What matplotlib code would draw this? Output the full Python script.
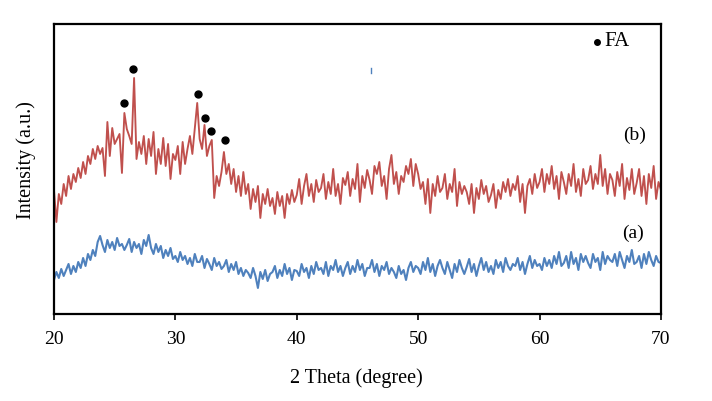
import numpy as np
import matplotlib.pyplot as plt

plt.rcParams['font.family'] = ['Liberation Serif', 'DejaVu Serif']

# 2-theta grid, 0.2 degree step
two_theta = np.round(np.arange(20.0, 70.01, 0.2), 1)

# (b) sample with FA, intensity in arbitrary units
int_b = [
    124, 92, 120, 110, 130, 118, 138, 125, 140, 132,
    146, 136, 152, 140, 158, 150, 165, 155, 168, 160,
    166, 138, 192, 158, 186, 170, 175, 180, 141, 201,
    185, 178, 170, 236, 155, 172, 160, 178, 150, 175,
    158, 182, 140, 165, 150, 176, 148, 170, 135, 160,
    154, 168, 140, 172, 150, 165, 178, 160, 185, 211,
    175, 165, 189, 158, 168, 174, 116, 138, 128, 142,
    162, 140, 150, 130, 145, 122, 138, 118, 142, 120,
    130, 105, 125, 112, 128, 96, 120, 110, 125, 108,
    116, 100, 122, 108, 118, 96, 120, 110, 124, 112,
    119, 135, 110, 128, 140, 118, 130, 112, 134, 122,
    126, 140, 115, 132, 120, 145, 118, 130, 110, 136,
    129, 142, 118, 135, 125, 150, 112, 138, 126, 144,
    134, 120, 148, 140, 152, 128, 138, 115, 145, 159,
    130, 142, 120, 138, 132, 148, 140, 155, 128, 150,
    140, 125, 132, 110, 135, 101, 130, 118, 138, 122,
    126, 140, 115, 130, 122, 145, 108, 132, 120, 128,
    122, 110, 130, 101, 126, 115, 134, 120, 128, 112,
    119, 130, 106, 124, 115, 132, 122, 135, 118, 130,
    124, 138, 112, 130, 101, 128, 135, 120, 140, 126,
    132, 145, 122, 140, 130, 148, 125, 138, 115, 142,
    132, 120, 140, 128, 150, 122, 135, 118, 145, 130,
    134, 148, 125, 140, 130, 159, 128, 145, 120, 140,
    134, 118, 142, 128, 150, 115, 136, 124, 145, 120,
    131, 145, 118, 138, 110, 140, 126, 148, 115, 132,
    124,
]

# (a) sample
int_a = [
    34, 42, 36, 45, 38, 44, 50, 40, 48, 42,
    52, 46, 56, 48, 60, 54, 64, 58, 72, 78,
    69, 62, 74, 66, 72, 64, 76, 68, 70, 64,
    69, 75, 62, 72, 66, 70, 60, 74, 68, 79,
    66, 60, 70, 62, 68, 56, 64, 58, 66, 55,
    58, 52, 62, 54, 58, 50, 56, 48, 60, 52,
    52, 58, 46, 55, 50, 44, 56, 48, 52, 45,
    48, 54, 42, 50, 44, 52, 40, 46, 38, 44,
    41, 36, 46, 38, 26, 42, 35, 44, 33, 40,
    42, 48, 36, 44, 38, 50, 40, 46, 34, 44,
    43, 38, 50, 42, 46, 36, 48, 40, 52, 44,
    46, 40, 52, 38, 48, 44, 54, 42, 48, 38,
    46, 52, 40, 48, 42, 54, 44, 50, 38, 46,
    46, 54, 42, 50, 38, 48, 44, 52, 40, 46,
    42, 36, 48, 40, 44, 34, 46, 52, 42, 48,
    46, 40, 52, 44, 56, 42, 50, 38, 48, 54,
    46, 40, 52, 44, 36, 50, 42, 54, 46, 40,
    47, 55, 42, 50, 38, 48, 56, 44, 52, 42,
    48, 40, 54, 46, 52, 42, 56, 48, 44, 50,
    48, 56, 44, 52, 40, 50, 58, 46, 54, 48,
    50, 44, 56, 48, 54, 46, 58, 50, 62, 48,
    51, 58, 46, 62, 50, 56, 44, 60, 52, 58,
    51, 46, 60, 52, 56, 44, 62, 50, 58, 54,
    52, 60, 48, 62, 54, 46, 58, 52, 64, 50,
    52, 58, 46, 60, 50, 62, 54, 48, 58, 52,
    51,
]

# FA peak markers
fa_pos = [25.77, 26.5, 31.86, 32.4, 32.95, 34.1]
fa_height = [211, 245, 220, 196, 183, 174]

fig = plt.figure(figsize=(7.12, 4.01), dpi=100)
ax = fig.add_axes([0.0758, 0.2170, 0.8525, 0.7232])

ax.plot(two_theta, int_b, color='#c0504d', lw=1.35)
ax.plot(two_theta, int_a, color='#4f81bd', lw=1.5)
ax.plot(fa_pos, fa_height, 'o', color='black', ms=5)

# legend-like annotation
ax.plot([64.7], [272], 'o', color='black', ms=4)
ax.text(65.3, 272, 'FA', fontsize=15, va='center', ha='left')
ax.text(67.85, 179, '(b)', fontsize=14, va='center', ha='center')
ax.text(67.7, 81, '(a)', fontsize=14, va='center', ha='center')

# stray mark in the original
ax.plot([46.15, 46.15], [241, 246], color='#4f81bd', lw=1)

ax.set_xlim(20, 70)
ax.set_ylim(0, 290)
ax.set_xticks([20, 30, 40, 50, 60, 70])
ax.set_yticks([])
ax.tick_params(axis='x', direction='out', length=4, width=1.2, labelsize=14, pad=8)
for s in ax.spines.values():
    s.set_linewidth(1.6)

ax.set_xlabel('2 Theta (degree)', fontsize=14.5)
ax.set_ylabel('Intensity (a.u.)', fontsize=14.5)
ax.xaxis.set_label_coords(0.499, -0.188)
ax.yaxis.set_label_coords(-0.030, 0.531)

fig.savefig('out.png', dpi=100)
